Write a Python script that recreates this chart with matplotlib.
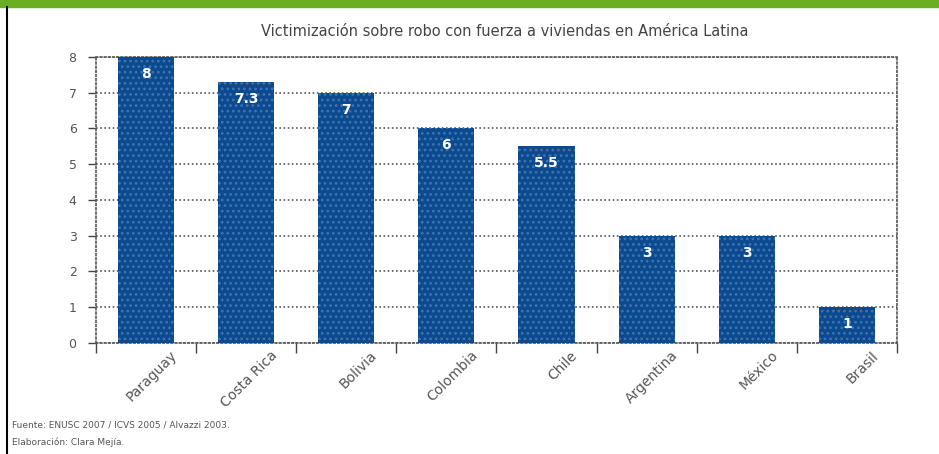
import matplotlib.pyplot as plt
from matplotlib.lines import Line2D
from matplotlib.patches import Rectangle

paises = ["Paraguay", "Costa Rica", "Bolivia", "Colombia", "Chile",
          "Argentina", "México", "Brasil"]
valores = [8, 7.3, 7, 6, 5.5, 3, 3, 1]
etiquetas = ["8", "7.3", "7", "6", "5.5", "3", "3", "1"]
yticks = [0, 1, 2, 3, 4, 5, 6, 7, 8]

titulo = "Victimización sobre robo con fuerza a viviendas en América Latina"
fuente = "Fuente: ENUSC 2007 / ICVS 2005 / Alvazzi 2003."
elaboracion = "Elaboración: Clara Mejía."

plt.rcParams['hatch.linewidth'] = 1.2
plt.rcParams['hatch.color'] = '#3f72b0'

fig = plt.figure(figsize=(9.39, 4.54), dpi=100)
ax = fig.add_axes([0.1022, 0.2445, 0.853, 0.630])

dot = (0, (1, 1.5))
grid_c = '#555555'

x = list(range(len(paises)))
bars = ax.bar(x, valores, width=0.56, color='#0b4a8e', edgecolor='#3f72b0',
              linewidth=0, hatch='...', zorder=3)

for b, lab in zip(bars, etiquetas):
    ax.text(b.get_x() + b.get_width() / 2, b.get_height() - 0.28, lab,
            ha='center', va='top', color='white', fontsize=10,
            fontweight='semibold', zorder=4)

ax.set_xlim(-0.5, len(paises) - 0.5)
ax.set_ylim(0, 8)
ax.set_yticks(yticks)
ax.set_yticklabels([str(v) for v in yticks], color='#555555', fontsize=9)
ax.yaxis.grid(True, linestyle=dot, color=grid_c, linewidth=1.2, zorder=1)

# x ticks at category boundaries, labels at centres
ax.set_xticks([i - 0.5 for i in range(len(paises) + 1)])
ax.set_xticklabels([])
ax.tick_params(axis='x', length=7, width=1, color='#444444', direction='out')
ax.tick_params(axis='y', length=6, width=1, color='#444444', pad=8)
for i, p in enumerate(paises):
    ax.text(i + 0.24, -0.15, p, rotation=45, ha='right', va='top',
            rotation_mode='anchor', fontsize=10, color='#555555')

for s in ax.spines.values():
    s.set_linestyle(dot)
    s.set_color(grid_c)
    s.set_linewidth(1.2)

fig.text(0.538, 0.93, titulo, ha='center', va='center', fontsize=10.5,
         color='#444444')
fig.text(0.013, 0.063, fuente, ha='left', va='center', fontsize=6.5,
         color='#555555')
fig.text(0.013, 0.025, elaboracion, ha='left', va='center', fontsize=6.5,
         color='#555555')

# green band and left border
fig.patches.append(Rectangle((0, 0.984), 1, 0.016, transform=fig.transFigure,
                             color='#6aaf23', zorder=0))
fig.lines.append(Line2D([0.0075, 0.0075], [0, 0.984], transform=fig.transFigure,
                        color='black', linewidth=1.5))

plt.savefig("out.png", dpi=100)
